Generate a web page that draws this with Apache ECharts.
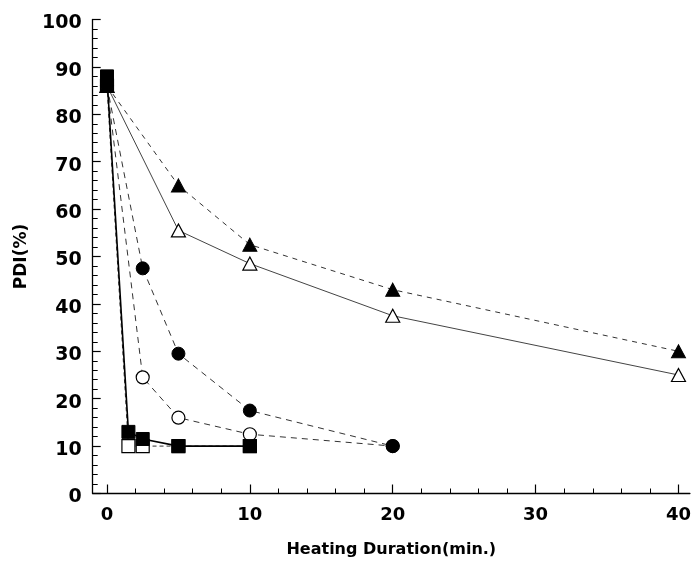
<!DOCTYPE html>
<html>
<head>
<meta charset="utf-8">
<script src="https://cdn.jsdelivr.net/npm/echarts@6/dist/echarts.min.js"></script>
<style>
html,body{margin:0;padding:0;background:#fff;}
#chart{width:694px;height:564px;}
</style>
</head>
<body>
<div id="chart"></div>
<script>
// ---- data ----
const xMajorTicks = [0, 10, 20, 30, 40];
const xMinorTicks = [2, 4, 6, 8, 12, 14, 16, 18, 22, 24, 26, 28, 32, 34, 36, 38];
const yTickLabels = [0, 10, 20, 30, 40, 50, 60, 70, 80, 90, 100];

const filledTriX = [0, 5, 10, 20, 40];
const filledTriY = [86, 65, 52.5, 43, 30];
const openTriX = [0, 5, 10, 20, 40];
const openTriY = [86, 55.5, 48.5, 37.5, 25];
const filledCircleX = [0, 2.5, 5, 10, 20];
const filledCircleY = [86, 47.5, 29.5, 17.5, 10];
const openCircleX = [0, 2.5, 5, 10, 20];
const openCircleY = [86, 24.5, 16, 12.5, 10];
const filledSquareX = [0, 1.5, 2.5, 5, 10];
const filledSquareY = [88, 13, 11.5, 10, 10];
const openSquareX = [0, 1.5, 2.5, 5, 10];
const openSquareY = [86, 10, 10, 10, 10];

const pairs = (xs, ys) => xs.map((x, i) => [x, ys[i]]);

const FONT = 'DejaVu Sans';

function mkSeries(name, xs, ys, symbol, size, filled, lineType, lineWidth, z, lineColor) {
  return {
    name: name,
    type: 'line',
    data: pairs(xs, ys),
    symbol: symbol,
    symbolSize: size,
    z: z,
    itemStyle: filled
      ? { color: '#000', borderColor: '#000', borderWidth: 1 }
      : { color: '#fff', borderColor: '#000', borderWidth: 1.2 },
    lineStyle: { color: lineColor || '#333', width: lineWidth, type: lineType },
    emphasis: { disabled: true },
    animation: false
  };
}

const chart = echarts.init(document.getElementById('chart'), null, { renderer: 'canvas' });
chart.setOption({
  animation: false,
  backgroundColor: '#fff',
  grid: { left: 92.7, right: 0.4, top: 19.5, bottom: 70.5, containLabel: false },
  xAxis: [
    {
      type: 'value', min: -1, max: 40.8,
      name: 'Heating Duration(min.)', nameLocation: 'middle', nameGap: 48,
      nameTextStyle: { fontFamily: FONT, fontWeight: 'bold', fontSize: 16, color: '#000', padding: [0, 0, 0, 0] },
      axisLine: { show: true, onZero: false, lineStyle: { color: '#000', width: 1.3 } },
      axisTick: { show: true, inside: true, length: 9, customValues: xMajorTicks, lineStyle: { color: '#000', width: 1.2 } },
      axisLabel: { show: true, customValues: xMajorTicks, margin: 13, fontFamily: FONT, fontWeight: 'bold', fontSize: 18, color: '#000' },
      splitLine: { show: false }
    },
    {
      type: 'value', min: -1, max: 40.8, position: 'bottom',
      axisLine: { show: false, onZero: false },
      axisTick: { show: true, inside: true, length: 5, customValues: xMinorTicks, lineStyle: { color: '#000', width: 1 } },
      axisLabel: { show: false },
      splitLine: { show: false }
    }
  ],
  yAxis: {
    type: 'value', min: 0, max: 100, interval: 10,
    name: 'PDI(%)', nameLocation: 'middle', nameGap: 63, nameRotate: 90,
    nameTextStyle: { fontFamily: FONT, fontWeight: 'bold', fontSize: 17, color: '#000' },
    axisLine: { show: true, onZero: false, lineStyle: { color: '#000', width: 1.3 } },
    axisTick: { show: true, inside: true, length: 8, lineStyle: { color: '#000', width: 1.2 } },
    minorTick: { show: true, splitNumber: 5, length: 5, lineStyle: { color: '#000', width: 1 } },
    axisLabel: {
      margin: 11, color: '#000',
      formatter: v => (yTickLabels.indexOf(v) >= 0 ? '{a|' + v + '}' : ''),
      rich: { a: { fontFamily: FONT, fontWeight: 'bold', fontSize: 19, color: '#000', padding: [8, 0, 0, 0] } }
    },
    splitLine: { show: false },
    minorSplitLine: { show: false }
  },
  series: [
    mkSeries('open square', openSquareX, openSquareY, 'rect', 13, false, [4, 3], 1, 1),
    mkSeries('open triangle', openTriX, openTriY, 'triangle', [14, 13], false, 'solid', 1, 2, '#444'),
    mkSeries('filled triangle', filledTriX, filledTriY, 'triangle', [14, 13], true, [5, 5], 1, 3),
    mkSeries('open circle', openCircleX, openCircleY, 'circle', 13, false, [6, 5], 1, 4),
    mkSeries('filled circle', filledCircleX, filledCircleY, 'circle', 13, true, [6, 5], 1, 5),
    mkSeries('filled square', filledSquareX, filledSquareY, 'rect', 13, true, 'solid', 1.6, 7, '#000')
  ]
});
</script>
</body>
</html>
